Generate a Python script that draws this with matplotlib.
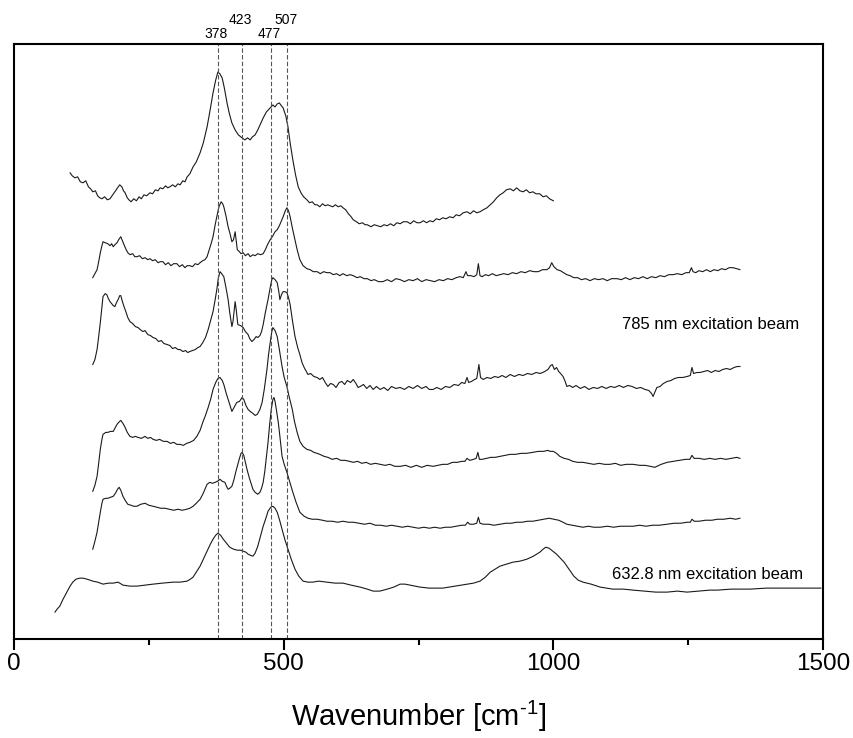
import matplotlib
matplotlib.use("Agg")
import matplotlib.pyplot as plt
import matplotlib.transforms as mtransforms

# Stacked Raman spectra, intensity in arbitrary units (stack offsets included).
# Top spectrum first.
wn_1 = [104, 108, 113, 118, 123, 128, 133, 138, 142, 146, 151, 155, 159, 163, 168,
        173, 178, 183, 187, 192, 196, 200, 203, 206, 210, 213, 217, 222, 227, 232,
        236, 241, 246, 252, 257, 262, 267, 271, 276, 281, 285, 289, 294, 299, 304,
        308, 313, 317, 321, 326, 332, 338, 345, 351, 358, 363, 369, 374, 378, 382,
        386, 390, 395, 399, 404, 410, 416, 423, 428, 433, 438, 442, 447, 452, 457,
        462, 468, 475, 480, 484, 488, 492, 496, 499, 504, 508, 512, 517, 522, 527,
        532, 537, 543, 548, 553, 558, 562, 567, 572, 577, 582, 586, 591, 596, 601,
        606, 610, 615, 620, 625, 629, 635, 640, 646, 651, 655, 662, 668, 674, 680,
        686, 692, 698, 704, 710, 716, 722, 729, 735, 741, 747, 753, 759, 765, 771,
        777, 783, 789, 795, 801, 808, 814, 820, 826, 833, 840, 846, 852, 858, 864,
        870, 877, 883, 889, 895, 901, 907, 913, 920, 926, 932, 938, 944, 950, 956,
        962, 968, 975, 981, 987, 993, 1000]
int_1 = [467, 464, 462, 463, 458, 457, 459, 453, 451, 448, 449, 444, 442, 441, 443,
         440, 441, 445, 448, 452, 455, 453, 449, 447, 442, 440, 438, 441, 439, 443,
         441, 445, 444, 447, 446, 450, 449, 452, 451, 454, 452, 453, 455, 453, 456,
         455, 459, 458, 463, 466, 473, 478, 487, 497, 513, 528, 547, 560, 568, 566,
         562, 552, 537, 527, 517, 510, 505, 502, 500, 502, 500, 503, 505, 510, 516,
         522, 528, 532, 535, 533, 536, 537, 534, 532, 524, 513, 497, 480, 465, 453,
         447, 443, 440, 437, 438, 435, 435, 433, 436, 434, 435, 434, 433, 435, 433,
         434, 432, 430, 426, 423, 420, 418, 416, 417, 415, 415, 413, 415, 414, 413,
         415, 414, 416, 414, 417, 416, 418, 418, 416, 419, 417, 417, 419, 417, 419,
         418, 421, 420, 422, 421, 423, 422, 425, 424, 427, 428, 426, 429, 427, 428,
         430, 432, 435, 438, 442, 445, 447, 450, 451, 449, 452, 449, 448, 450, 447,
         448, 446, 446, 443, 444, 441, 439]

wn_2 = [146, 150, 154, 157, 160, 163, 165, 169, 174, 178, 181, 184, 187, 191, 194,
        198, 201, 204, 208, 211, 215, 220, 224, 228, 233, 238, 243, 248, 252, 257,
        262, 267, 271, 276, 281, 286, 291, 296, 302, 307, 312, 317, 321, 326, 331,
        336, 341, 345, 350, 354, 358, 362, 366, 369, 373, 376, 380, 384, 387, 389,
        393, 397, 401, 404, 407, 410, 412, 414, 418, 421, 425, 429, 434, 438, 443,
        447, 452, 457, 462, 466, 470, 475, 480, 484, 488, 492, 496, 499, 503, 506,
        509, 512, 516, 521, 525, 530, 536, 543, 549, 555, 562, 568, 574, 580, 586,
        592, 598, 604, 610, 617, 623, 629, 636, 642, 649, 655, 662, 668, 676, 684,
        692, 700, 708, 716, 724, 732, 740, 748, 756, 764, 772, 780, 788, 796, 804,
        812, 820, 827, 833, 838, 841, 847, 853, 858, 861, 864, 868, 874, 880, 887,
        894, 901, 908, 916, 924, 932, 940, 948, 956, 964, 972, 980, 988, 993, 997,
        1001, 1007, 1013, 1019, 1025, 1031, 1038, 1045, 1052, 1060, 1068, 1076, 1084, 1092, 1100,
        1108, 1118, 1126, 1134, 1142, 1150, 1158, 1166, 1174, 1182, 1190, 1198, 1206, 1214, 1222,
        1230, 1238, 1246, 1252, 1256, 1259, 1264, 1270, 1277, 1284, 1291, 1298, 1305, 1312, 1319,
        1326, 1333, 1340, 1346]
int_2 = [362, 366, 370, 378, 387, 394, 398, 397, 396, 394, 396, 393, 395, 397, 400,
         403, 399, 395, 390, 387, 385, 386, 383, 383, 384, 381, 382, 380, 381, 379,
         380, 377, 378, 378, 375, 377, 374, 376, 376, 373, 375, 372, 374, 374, 373,
         376, 375, 377, 379, 380, 383, 390, 397, 403, 415, 423, 433, 438, 436, 433,
         424, 413, 405, 398, 400, 408, 399, 390, 388, 386, 387, 384, 386, 383, 385,
         384, 386, 385, 386, 390, 395, 400, 404, 408, 410, 414, 419, 423, 429, 432,
         429, 423, 412, 400, 390, 380, 374, 371, 370, 368, 368, 366, 368, 367, 367,
         365, 366, 364, 366, 364, 365, 364, 362, 363, 361, 361, 359, 360, 358, 358,
         360, 358, 361, 360, 358, 360, 359, 361, 358, 360, 359, 358, 360, 359, 361,
         360, 362, 363, 362, 368, 364, 364, 363, 365, 376, 364, 363, 365, 364, 366,
         364, 365, 366, 365, 367, 366, 368, 367, 369, 368, 368, 370, 370, 372, 377,
         373, 370, 369, 367, 365, 364, 362, 362, 360, 361, 359, 361, 360, 361, 359,
         361, 361, 360, 362, 360, 362, 361, 363, 361, 363, 362, 364, 363, 365, 365,
         366, 365, 367, 367, 372, 368, 367, 369, 368, 370, 368, 370, 369, 371, 370,
         372, 372, 371, 370]

wn_3 = [146, 150, 154, 157, 160, 163, 165, 169, 172, 175, 178, 181, 184, 187, 190,
        193, 196, 198, 201, 204, 208, 211, 215, 220, 225, 230, 234, 239, 243, 248,
        253, 258, 263, 268, 273, 278, 284, 289, 294, 299, 304, 308, 313, 318, 322,
        326, 331, 336, 341, 345, 350, 355, 360, 364, 369, 373, 376, 379, 382, 385,
        389, 393, 397, 400, 404, 406, 408, 410, 412, 415, 420, 425, 429, 434, 437,
        441, 445, 449, 452, 456, 459, 462, 466, 469, 471, 475, 478, 480, 484, 488,
        491, 493, 496, 499, 502, 506, 509, 512, 516, 521, 526, 530, 534, 538, 542,
        545, 550, 556, 562, 567, 572, 577, 582, 587, 592, 597, 603, 608, 613, 618,
        624, 629, 634, 638, 642, 648, 654, 660, 666, 672, 679, 686, 693, 700, 708,
        716, 724, 732, 740, 748, 756, 764, 770, 777, 784, 792, 800, 808, 816, 824,
        830, 836, 840, 843, 848, 854, 858, 862, 865, 870, 877, 884, 891, 898, 905,
        912, 920, 928, 936, 944, 952, 960, 968, 976, 984, 990, 995, 998, 1002, 1006,
        1010, 1015, 1018, 1022, 1025, 1030, 1036, 1042, 1050, 1058, 1066, 1074, 1082, 1090, 1098,
        1106, 1114, 1122, 1130, 1138, 1146, 1154, 1162, 1170, 1177, 1182, 1185, 1188, 1192, 1198,
        1204, 1211, 1218, 1225, 1232, 1240, 1248, 1254, 1257, 1260, 1266, 1272, 1279, 1286, 1293,
        1300, 1307, 1314, 1321, 1328, 1335, 1341, 1346]
int_3 = [275, 280, 290, 303, 317, 333, 343, 346, 345, 341, 338, 336, 334, 333, 337,
         340, 344, 344, 338, 333, 327, 322, 318, 316, 313, 312, 310, 308, 309, 305,
         304, 302, 301, 298, 299, 296, 295, 294, 291, 292, 290, 290, 288, 289, 287,
         288, 289, 290, 292, 293, 297, 302, 310, 318, 328, 340, 350, 362, 368, 366,
         363, 352, 340, 327, 313, 318, 328, 338, 330, 315, 314, 312, 308, 305, 301,
         298, 300, 303, 302, 304, 308, 315, 327, 335, 340, 352, 360, 362, 360, 357,
         348, 340, 345, 348, 348, 347, 342, 335, 320, 303, 292, 285, 277, 272, 268,
         265, 266, 263, 262, 260, 262, 257, 253, 256, 255, 252, 257, 258, 255, 259,
         257, 260, 256, 252, 253, 255, 251, 254, 250, 253, 250, 252, 249, 253, 251,
         252, 250, 253, 251, 254, 251, 253, 250, 250, 252, 250, 253, 252, 255, 254,
         257, 256, 262, 257, 258, 260, 261, 275, 262, 260, 262, 261, 263, 262, 264,
         262, 265, 263, 265, 264, 266, 265, 267, 266, 268, 270, 274, 275, 270, 272,
         268, 265, 263, 258, 253, 254, 252, 254, 251, 253, 250, 252, 251, 253, 251,
         253, 252, 254, 252, 254, 253, 251, 252, 250, 249, 246, 243, 247, 252, 253,
         256, 258, 259, 261, 262, 262, 263, 264, 272, 266, 267, 267, 268, 269, 267,
         269, 268, 270, 271, 270, 272, 273, 273]

wn_4 = [146, 150, 154, 157, 160, 163, 165, 170, 174, 179, 184, 187, 191, 194, 198,
        202, 206, 210, 215, 220, 225, 230, 236, 243, 248, 253, 258, 264, 270, 277,
        284, 290, 296, 302, 308, 314, 320, 326, 333, 339, 345, 350, 355, 360, 365,
        369, 374, 378, 382, 386, 389, 393, 397, 401, 404, 408, 413, 418, 423, 426,
        430, 434, 438, 443, 447, 451, 456, 460, 464, 467, 469, 472, 475, 478, 480,
        484, 488, 492, 497, 501, 506, 510, 516, 520, 525, 530, 536, 543, 550, 556,
        562, 567, 575, 582, 590, 598, 606, 614, 622, 629, 637, 645, 653, 661, 670,
        679, 688, 697, 706, 716, 726, 736, 746, 756, 766, 777, 786, 795, 804, 813,
        822, 830, 836, 840, 845, 852, 857, 860, 863, 868, 876, 884, 892, 901, 910,
        920, 930, 940, 950, 962, 972, 982, 990, 994, 1000, 1006, 1012, 1020, 1028, 1036,
        1045, 1055, 1065, 1075, 1085, 1095, 1105, 1115, 1125, 1135, 1148, 1160, 1170, 1180, 1188,
        1192, 1200, 1211, 1222, 1234, 1245, 1253, 1257, 1261, 1270, 1280, 1290, 1300, 1310, 1320,
        1330, 1340, 1346]
int_4 = [148, 154, 163, 176, 190, 200, 205, 207, 207, 208, 208, 211, 215, 217, 219,
         216, 212, 207, 203, 202, 203, 202, 201, 203, 201, 202, 200, 199, 200, 198,
         198, 196, 197, 195, 195, 194, 196, 197, 199, 203, 209, 217, 224, 232, 241,
         250, 257, 261, 262, 259, 255, 247, 240, 233, 228, 232, 237, 238, 242, 240,
         234, 230, 228, 226, 224, 225, 230, 237, 250, 262, 270, 285, 297, 308, 312,
         309, 303, 290, 273, 262, 253, 243, 230, 218, 207, 198, 193, 190, 189, 187,
         186, 185, 183, 182, 180, 181, 179, 179, 178, 177, 178, 176, 177, 175, 176,
         175, 174, 175, 173, 173, 174, 172, 174, 172, 174, 173, 174, 175, 175, 177,
         177, 178, 178, 181, 179, 180, 181, 187, 180, 180, 181, 182, 182, 183, 184,
         185, 185, 186, 186, 187, 188, 188, 189, 188, 188, 186, 183, 181, 180, 178,
         177, 177, 176, 175, 176, 175, 175, 176, 174, 175, 175, 174, 174, 173, 172,
         173, 175, 177, 178, 179, 180, 180, 184, 181, 181, 180, 181, 180, 181, 180,
         181, 182, 181]

wn_5 = [146, 150, 154, 157, 160, 163, 165, 170, 174, 179, 184, 188, 192, 195, 198,
        202, 206, 211, 217, 222, 228, 235, 243, 250, 258, 265, 272, 280, 288, 296,
        304, 312, 320, 326, 332, 338, 345, 350, 354, 358, 363, 368, 373, 377, 382,
        386, 391, 394, 397, 400, 404, 408, 411, 414, 418, 421, 423, 426, 429, 432,
        436, 440, 443, 447, 452, 456, 459, 462, 465, 468, 471, 474, 477, 480, 482,
        484, 487, 490, 493, 497, 501, 506, 511, 517, 523, 530, 538, 545, 553, 562,
        572, 580, 590, 600, 610, 620, 629, 640, 650, 660, 670, 680, 690, 700, 710,
        720, 730, 740, 750, 760, 770, 780, 790, 800, 810, 820, 830, 837, 841, 845,
        852, 858, 861, 864, 870, 880, 890, 901, 912, 922, 932, 942, 952, 962, 972,
        982, 992, 1001, 1010, 1018, 1025, 1035, 1045, 1055, 1065, 1075, 1087, 1100, 1112, 1124,
        1136, 1148, 1160, 1172, 1184, 1196, 1211, 1224, 1236, 1248, 1254, 1257, 1261, 1270, 1282,
        1294, 1304, 1316, 1328, 1338, 1346]
int_5 = [90, 98, 107, 117, 127, 136, 140, 141, 141, 142, 143, 146, 150, 152, 149,
         143, 139, 135, 134, 133, 133, 135, 136, 134, 133, 132, 131, 131, 130, 129,
         130, 129, 130, 131, 133, 136, 140, 145, 150, 155, 157, 156, 157, 158, 160,
         158, 157, 153, 150, 151, 153, 160, 167, 173, 181, 186, 187, 184, 177, 170,
         162, 155, 150, 147, 145, 147, 151, 157, 168, 183, 197, 215, 230, 240, 242,
         238, 228, 217, 203, 183, 175, 167, 158, 147, 137, 127, 123, 121, 120, 120,
         119, 118, 118, 117, 118, 117, 117, 116, 115, 116, 114, 114, 113, 114, 113,
         112, 113, 112, 111, 112, 111, 112, 111, 112, 112, 113, 114, 114, 117, 115,
         115, 116, 122, 116, 115, 115, 114, 115, 116, 116, 117, 117, 118, 118, 119,
         120, 121, 120, 119, 117, 115, 114, 113, 112, 113, 112, 112, 113, 112, 113,
         113, 113, 114, 113, 114, 114, 115, 116, 116, 117, 117, 120, 118, 118, 119,
         119, 120, 120, 121, 120, 121]

# bottom spectrum (632.8 nm excitation)
wn_6 = [76, 80, 85, 91, 98, 104, 109, 115, 122, 128, 135, 141, 146, 155, 165,
        175, 184, 193, 202, 215, 228, 243, 258, 275, 295, 308, 321, 327, 332, 338,
        345, 351, 358, 364, 369, 374, 378, 383, 388, 394, 400, 407, 414, 420, 425,
        430, 434, 438, 443, 447, 452, 457, 462, 467, 471, 476, 480, 484, 488, 492,
        497, 502, 508, 514, 521, 528, 536, 545, 554, 565, 580, 595, 610, 625, 642,
        655, 666, 678, 692, 704, 716, 725, 734, 744, 753, 770, 795, 818, 840, 852,
        864, 874, 883, 892, 901, 913, 925, 938, 951, 963, 975, 981, 986, 992, 999,
        1006, 1013, 1020, 1029, 1038, 1046, 1055, 1070, 1087, 1110, 1130, 1148, 1170, 1190, 1211,
        1230, 1248, 1270, 1290, 1304, 1330, 1365, 1395, 1426, 1460, 1496]
int_6 = [27, 30, 33, 40, 47, 53, 57, 60, 61, 61, 60, 59, 58, 57, 55,
         56, 56, 57, 54, 53, 53, 54, 55, 56, 57, 57, 58, 60, 62, 67,
         73, 80, 88, 95, 100, 104, 106, 104, 100, 96, 92, 90, 89, 89, 88,
         87, 85, 84, 83, 86, 93, 103, 113, 121, 128, 132, 133, 131, 127, 120,
         110, 100, 90, 80, 70, 63, 58, 57, 57, 58, 57, 56, 56, 54, 52,
         50, 48, 48, 50, 52, 55, 55, 54, 53, 52, 51, 51, 53, 55, 56,
         58, 62, 67, 70, 73, 75, 77, 78, 80, 83, 87, 90, 92, 91, 88,
         85, 81, 77, 70, 63, 59, 57, 55, 52, 50, 50, 49, 48, 47, 47,
         48, 47, 48, 49, 49, 50, 50, 51, 51, 51, 51]

spectra = [(wn_1, int_1), (wn_2, int_2), (wn_3, int_3),
           (wn_4, int_4), (wn_5, int_5), (wn_6, int_6)]

peaks = [378, 423, 477, 507]
peak_label_y = [1.017, 1.040, 1.017, 1.040]

plt.rcParams["font.family"] = ["Liberation Sans", "DejaVu Sans"]
plt.rcParams["mathtext.fontset"] = "custom"
plt.rcParams["mathtext.rm"] = "Liberation Sans"
plt.rcParams["mathtext.it"] = "Liberation Sans:italic"

fig = plt.figure(figsize=(8.54, 7.38), dpi=100)
ax = fig.add_axes([0.0164, 0.1341, 0.9473, 0.8062])

for wn, inten in spectra:
    ax.plot(wn, inten, color="#1a1a1a", linewidth=0.8)

# marker lines for the main bands, labels above the frame
trans = mtransforms.blended_transform_factory(ax.transData, ax.transAxes)
for p, ly in zip(peaks, peak_label_y):
    ax.axvline(p, color="#555555", linestyle=(0, (4, 2)), linewidth=0.8)
    ax.text(p - 3, ly, str(p), transform=trans, ha="center", va="center", fontsize=10)

ax.text(1127, 315, "785 nm excitation beam", fontsize=12, va="center")
ax.text(1109, 65, "632.8 nm excitation beam", fontsize=12, va="center")

ax.set_xlim(0, 1500)
ax.set_ylim(0, 596)
ax.set_xticks([0, 500, 1000, 1500])
ax.set_xticks([250, 750, 1250], minor=True)
ax.set_yticks([])
ax.tick_params(axis="x", which="major", direction="out", length=8, width=1.5,
               labelsize=17.5, pad=2)
ax.tick_params(axis="x", which="minor", direction="out", length=4, width=1.5)
for s in ax.spines.values():
    s.set_linewidth(1.5)

ax.set_xlabel(r"Wavenumber [cm$^{\text{-}1}$]", fontsize=21, labelpad=17)

fig.savefig("out.png", dpi=100)
